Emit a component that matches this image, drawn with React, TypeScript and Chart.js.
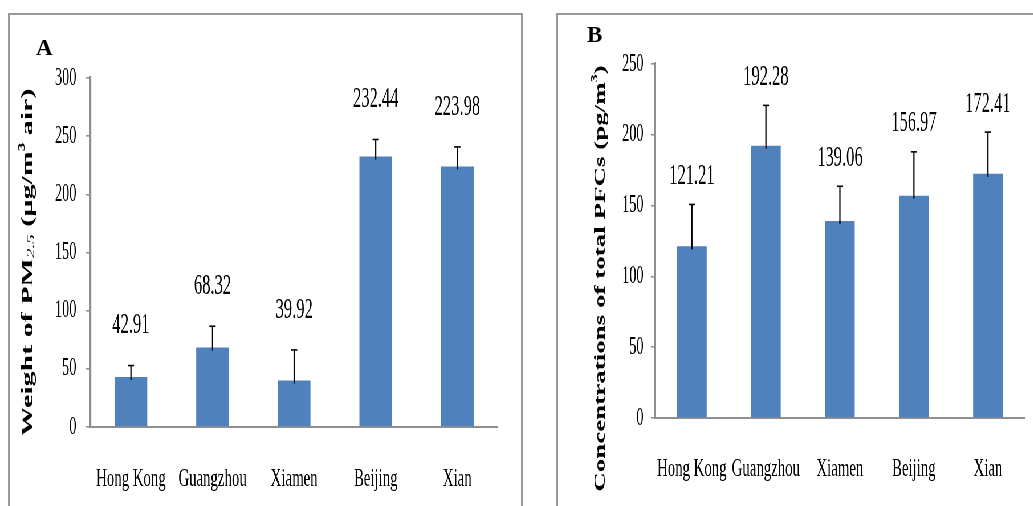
import React, { useEffect, useRef } from "react";
import { Chart, registerables } from "chart.js";

Chart.register(...registerables);

const cities = ["Hong Kong", "Guangzhou", "Xiamen", "Beijing", "Xian"];
const pmValues = [42.91, 68.32, 39.92, 232.44, 223.98];
const pmErrors = [9.9, 18.3, 26.3, 14.7, 16.8];
const pfcValues = [121.21, 192.28, 139.06, 156.97, 172.41];
const pfcErrors = [29.6, 28.5, 24.6, 31.0, 29.5];
const pmTicks = { min: 0, max: 300, step: 50 };
const pfcTicks = { min: 0, max: 250, step: 50 };

const SX = 0.57;
const FONT = "'Liberation Serif', 'Times New Roman', serif";
const BAR = "#4F81BD";
const AXIS = "#8f8f8f";

const extrasPlugin = {
  id: "extras",
  afterDatasetsDraw(chart: any, _args: any, opts: any) {
    const { ctx } = chart;
    const meta = chart.getDatasetMeta(0);
    const yScale = chart.scales.y;
    const ds = chart.data.datasets[0];
    meta.data.forEach((bar: any, i: number) => {
      const v = ds.data[i];
      const e = opts.errors[i];
      const x = bar.x;
      const yTop = yScale.getPixelForValue(v + e);
      ctx.save();
      ctx.strokeStyle = "#000";
      ctx.lineWidth = 2.2;
      ctx.beginPath();
      ctx.moveTo(x, bar.y + 3);
      ctx.lineTo(x, yTop);
      ctx.stroke();
      ctx.lineWidth = 1.6;
      ctx.beginPath();
      ctx.moveTo(x - 5.5, yTop);
      ctx.lineTo(x + 5.5, yTop);
      ctx.stroke();
      ctx.fillStyle = "#000";
      ctx.font = `29px ${FONT}`;
      ctx.textAlign = "center";
      ctx.textBaseline = "middle";
      ctx.fillText(Number(v).toFixed(2), x, yTop - opts.gap);
      ctx.restore();
    });
    // rotated y-axis title
    const t = opts.title;
    ctx.save();
    ctx.translate(t.x, t.y);
    ctx.rotate(-Math.PI / 2);
    ctx.fillStyle = "#000";
    ctx.textAlign = "left";
    ctx.textBaseline = "middle";
    (ctx as any).letterSpacing = t.spacing;
    let total = 0;
    for (const s of t.segments) {
      ctx.font = s.font;
      total += ctx.measureText(s.text).width;
    }
    let cur = -total / 2;
    for (const s of t.segments) {
      ctx.font = s.font;
      ctx.fillText(s.text, cur, s.dy || 0);
      cur += ctx.measureText(s.text).width;
    }
    ctx.restore();
  },
};

function makeConfig(
  values: number[],
  errors: number[],
  range: { min: number; max: number; step: number },
  geom: any,
  title: any
) {
  return {
    type: "bar" as const,
    data: {
      labels: cities,
      datasets: [
        {
          data: values,
          backgroundColor: BAR,
          borderWidth: 0,
          barPercentage: 0.4,
          categoryPercentage: 1.0,
        },
      ],
    },
    plugins: [extrasPlugin],
    options: {
      animation: false,
      responsive: false,
      maintainAspectRatio: false,
      layout: { padding: { left: 0, top: geom.top, right: geom.right, bottom: 0 } },
      plugins: {
        legend: { display: false },
        tooltip: { enabled: false },
        extras: { errors, gap: geom.gap, title },
      },
      scales: {
        x: {
          grid: { display: false },
          border: { display: true, color: AXIS, width: 2 },
          ticks: {
            color: "#000",
            font: { family: FONT, size: 26 },
            padding: geom.xPad,
            autoSkip: false,
            maxRotation: 0,
          },
          afterFit: (s: any) => {
            s.height = geom.xH;
          },
        },
        y: {
          min: range.min,
          max: range.max,
          grid: {
            drawOnChartArea: false,
            drawTicks: true,
            tickLength: 7,
            color: AXIS,
            lineWidth: 1.6,
          },
          border: { display: true, color: AXIS, width: 3.2 },
          ticks: {
            stepSize: range.step,
            color: "#000",
            font: { family: FONT, size: 25 },
            padding: geom.yPad,
          },
          afterFit: (s: any) => {
            s.width = geom.left;
          },
        },
      },
    },
  };
}

export default function App() {
  const refA = useRef<HTMLCanvasElement>(null);
  const refB = useRef<HTMLCanvasElement>(null);

  useEffect(() => {
    const cfgA = makeConfig(
      pmValues,
      pmErrors,
      pmTicks,
      { top: 64, right: 900 - 857.9, left: 142.1, xH: 79, xPad: 29, yPad: 17, gap: 40 },
      {
        x: 33.3,
        y: 248.5,
        spacing: "0px",
        segments: [
          { text: "Weight of PM", font: `bold 30px ${FONT}` },
          { text: "2.5", font: `italic 19px ${FONT}`, dy: 6 },
          { text: " (\u00b5g/m", font: `bold 30px ${FONT}` },
          { text: "3", font: `bold 17px ${FONT}`, dy: -11 },
          { text: " air)", font: `bold 30px ${FONT}` },
        ],
      }
    );
    const cfgB = makeConfig(
      pfcValues,
      pfcErrors,
      pfcTicks,
      { top: 50, right: 835 - 821.1, left: 171.9, xH: 88, xPad: 28, yPad: 13, gap: 28 },
      {
        x: 77.2,
        y: 264.5,
        spacing: "0px",
        segments: [
          { text: "Concentrations of total PFCs (pg/m", font: `bold 27px ${FONT}` },
          { text: "3", font: `bold 16px ${FONT}`, dy: -10 },
          { text: ")", font: `bold 27px ${FONT}` },
        ],
      }
    );
    const a = new Chart(refA.current as HTMLCanvasElement, cfgA as any);
    const b = new Chart(refB.current as HTMLCanvasElement, cfgB as any);
    return () => {
      a.destroy();
      b.destroy();
    };
  }, []);

  const letter: React.CSSProperties = {
    position: "absolute",
    fontFamily: FONT,
    fontWeight: "bold",
    fontSize: 23,
    lineHeight: "23px",
    color: "#000",
  };

  return (
    <div
      style={{
        position: "fixed",
        left: 0,
        top: 0,
        width: 1033,
        height: 506,
        background: "#fff",
        overflow: "hidden",
      }}
    >
      <div
        style={{
          position: "absolute",
          left: 0,
          top: 0,
          width: 1033 / SX,
          height: 506,
          transform: `scaleX(${SX})`,
          transformOrigin: "0 0",
        }}
      >
        <canvas
          ref={refA}
          width={900}
          height={492}
          style={{ position: "absolute", left: 9 / SX, top: 14, display: "block" }}
        />
        <canvas
          ref={refB}
          width={835}
          height={492}
          style={{ position: "absolute", left: 557 / SX, top: 14, display: "block" }}
        />
      </div>
      <div
        style={{
          position: "absolute",
          left: 8,
          top: 13,
          width: 515,
          height: 600,
          boxSizing: "border-box",
          borderTop: `2px solid #999`,
          borderLeft: `2px solid #999`,
          borderRight: `2px solid #999`,
        }}
      />
      <div
        style={{
          position: "absolute",
          left: 556,
          top: 13,
          width: 600,
          height: 600,
          boxSizing: "border-box",
          borderTop: `2px solid #999`,
          borderLeft: `2px solid #999`,
        }}
      />
      <div style={{ ...letter, left: 36, top: 36 }}>A</div>
      <div style={{ ...letter, left: 587, top: 23 }}>B</div>
    </div>
  );
}
